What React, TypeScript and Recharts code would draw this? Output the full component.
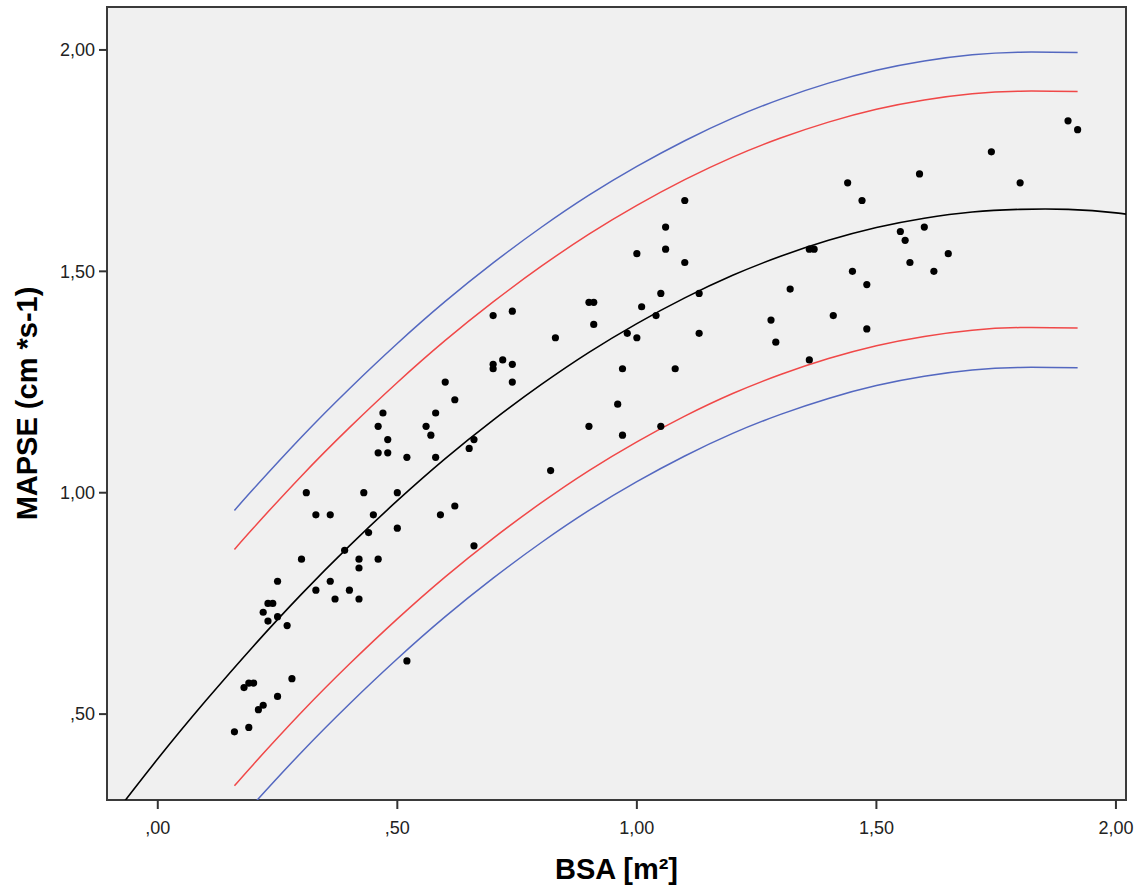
import React from 'react';
import {
  ComposedChart,
  Line,
  Scatter,
  XAxis,
  YAxis,
  CartesianGrid,
  ReferenceArea,
} from 'recharts';

// measured patients: BSA [m²] and MAPSE
const bsa = [
  0.16, 0.18, 0.19, 0.2, 0.19, 0.21, 0.22, 0.25, 0.28, 0.22, 0.23, 0.24, 0.23, 0.25, 0.25,
  0.27, 0.3, 0.31, 0.33, 0.33, 0.36, 0.36, 0.37, 0.39, 0.4, 0.42, 0.42, 0.42, 0.43, 0.44,
  0.45, 0.46, 0.46, 0.46, 0.47, 0.48, 0.48, 0.5, 0.5, 0.52, 0.52, 0.56, 0.57, 0.58, 0.58,
  0.59, 0.6, 0.62, 0.62, 0.65, 0.66, 0.66, 0.7, 0.7, 0.7, 0.72, 0.74, 0.74, 0.74, 0.83,
  0.82, 0.9, 0.9, 0.91, 0.91, 0.96, 0.97, 0.97, 0.98, 1.0, 1.0, 1.01, 1.04, 1.05, 1.05,
  1.06, 1.06, 1.08, 1.1, 1.1, 1.13, 1.13, 1.28, 1.29, 1.32, 1.36, 1.37, 1.36, 1.41, 1.44,
  1.45, 1.47, 1.48, 1.48, 1.55, 1.56, 1.57, 1.59, 1.6, 1.62, 1.65, 1.74, 1.8, 1.9, 1.92,
];
const mapse = [
  0.46, 0.56, 0.57, 0.57, 0.47, 0.51, 0.52, 0.54, 0.58, 0.73, 0.75, 0.75, 0.71, 0.8, 0.72,
  0.7, 0.85, 1.0, 0.95, 0.78, 0.8, 0.95, 0.76, 0.87, 0.78, 0.83, 0.85, 0.76, 1.0, 0.91,
  0.95, 0.85, 1.15, 1.09, 1.18, 1.12, 1.09, 1.0, 0.92, 1.08, 0.62, 1.15, 1.13, 1.18, 1.08,
  0.95, 1.25, 1.21, 0.97, 1.1, 1.12, 0.88, 1.4, 1.29, 1.28, 1.3, 1.41, 1.29, 1.25, 1.35,
  1.05, 1.15, 1.43, 1.43, 1.38, 1.2, 1.28, 1.13, 1.36, 1.35, 1.54, 1.42, 1.4, 1.45, 1.15,
  1.55, 1.6, 1.28, 1.66, 1.52, 1.45, 1.36, 1.39, 1.34, 1.46, 1.55, 1.55, 1.3, 1.4, 1.7,
  1.5, 1.66, 1.47, 1.37, 1.59, 1.57, 1.52, 1.72, 1.6, 1.5, 1.54, 1.77, 1.7, 1.84, 1.82,
];

// fitted curve (black)
const fitX = [
  -0.15, -0.1, 0, 0.1, 0.2, 0.3, 0.4, 0.5, 0.6, 0.7, 0.8, 0.9, 1.0, 1.1, 1.2, 1.3, 1.4,
  1.5, 1.6, 1.7, 1.8, 1.9, 2.0, 2.1,
];
const fitY = [
  0.188, 0.26, 0.399, 0.53, 0.654, 0.771, 0.88, 0.982, 1.077, 1.164, 1.244, 1.317, 1.382,
  1.44, 1.491, 1.534, 1.57, 1.599, 1.62, 1.634, 1.64, 1.64, 1.632, 1.616,
];

// percentile bands
const bandX = [
  0.16, 0.2, 0.3, 0.4, 0.5, 0.6, 0.7, 0.8, 0.9, 1.0, 1.1, 1.2, 1.3, 1.4, 1.5, 1.6, 1.7, 1.8,
  1.92,
];
const blueUpper = [
  0.96, 1.009, 1.126, 1.235, 1.337, 1.432, 1.519, 1.599, 1.672, 1.737, 1.795, 1.846, 1.889,
  1.925, 1.954, 1.975, 1.989, 1.995, 1.994,
];
const redUpper = [
  0.872, 0.921, 1.038, 1.147, 1.249, 1.344, 1.431, 1.511, 1.584, 1.649, 1.707, 1.758, 1.801,
  1.837, 1.866, 1.887, 1.901, 1.907, 1.906,
];
const redLower = [
  0.338, 0.387, 0.504, 0.613, 0.715, 0.81, 0.897, 0.977, 1.05, 1.115, 1.173, 1.224, 1.267,
  1.303, 1.332, 1.353, 1.367, 1.373, 1.372,
];
const blueLower = [
  0.248, 0.297, 0.414, 0.523, 0.625, 0.72, 0.807, 0.887, 0.96, 1.025, 1.083, 1.134, 1.177,
  1.213, 1.242, 1.263, 1.277, 1.283, 1.282,
];

const xTicks = [0, 0.5, 1, 1.5, 2];
const yTicks = [0.5, 1, 1.5, 2];

const X_MIN = -0.106;
const X_MAX = 2.021;
const Y_MIN = 0.306;
const Y_MAX = 2.097;

const points = bsa.map((x, i) => ({ x, y: mapse[i] }));
const fitData = fitX.map((x, i) => ({ x, y: fitY[i] }));
const toSeries = (vals: number[]) => bandX.map((x, i) => ({ x, y: vals[i] }));

const fmt = (v: number) => v.toFixed(2).replace('.', ',').replace(/^0/, '');

const tickStyle = { fontSize: 18, fill: '#222', fontFamily: "'Liberation Sans', Arial, sans-serif" };
const titleStyle = {
  fontSize: 29,
  fontWeight: 700,
  fill: '#000',
  fontFamily: "'Liberation Sans Narrow', 'Liberation Sans', Arial, sans-serif",
};

const Dot = (props: any) => <circle cx={props.cx} cy={props.cy} r={3.6} fill="#000" />;

export default function App() {
  return (
    <div style={{ position: 'absolute', left: 0, top: 0, background: '#fff' }}>
      <ComposedChart width={1144} height={887} margin={{ top: 7, right: 18, left: 0, bottom: 0 }}>
        <CartesianGrid horizontal={false} vertical={false} fill="#f0f0f0" />
        <XAxis
          type="number"
          dataKey="x"
          domain={[X_MIN, X_MAX]}
          allowDataOverflow
          ticks={xTicks}
          tickFormatter={fmt}
          height={87}
          tickSize={9}
          tickMargin={12}
          tick={tickStyle}
          axisLine={false}
          tickLine={{ stroke: '#333', strokeWidth: 2 }}
          label={{ value: 'BSA [m²]', position: 'insideBottom', offset: 8, style: titleStyle }}
        />
        <YAxis
          type="number"
          domain={[Y_MIN, Y_MAX]}
          allowDataOverflow
          ticks={yTicks}
          tickFormatter={fmt}
          width={107}
          tickSize={8}
          tickMargin={4}
          tick={tickStyle}
          axisLine={false}
          tickLine={{ stroke: '#333', strokeWidth: 2 }}
          label={{
            value: 'MAPSE (cm *s-1)',
            angle: -90,
            position: 'insideLeft',
            offset: 27,
            style: { ...titleStyle, textAnchor: 'middle' },
          }}
        />
        <ReferenceArea x1={X_MIN} x2={X_MAX} y1={Y_MIN} y2={Y_MAX} fill="none" stroke="#3a3a3a" strokeWidth={2} />
        <Line data={toSeries(blueUpper)} dataKey="y" type="natural" stroke="#5468c0" strokeWidth={1.5} dot={false} activeDot={false} isAnimationActive={false} />
        <Line data={toSeries(redUpper)} dataKey="y" type="natural" stroke="#f04848" strokeWidth={1.5} dot={false} activeDot={false} isAnimationActive={false} />
        <Line data={toSeries(redLower)} dataKey="y" type="natural" stroke="#f04848" strokeWidth={1.5} dot={false} activeDot={false} isAnimationActive={false} />
        <Line data={toSeries(blueLower)} dataKey="y" type="natural" stroke="#5468c0" strokeWidth={1.5} dot={false} activeDot={false} isAnimationActive={false} />
        <Line data={fitData} dataKey="y" type="natural" stroke="#000" strokeWidth={1.6} dot={false} activeDot={false} isAnimationActive={false} />
        <Scatter data={points} dataKey="y" shape={Dot} isAnimationActive={false} />
      </ComposedChart>
    </div>
  );
}
